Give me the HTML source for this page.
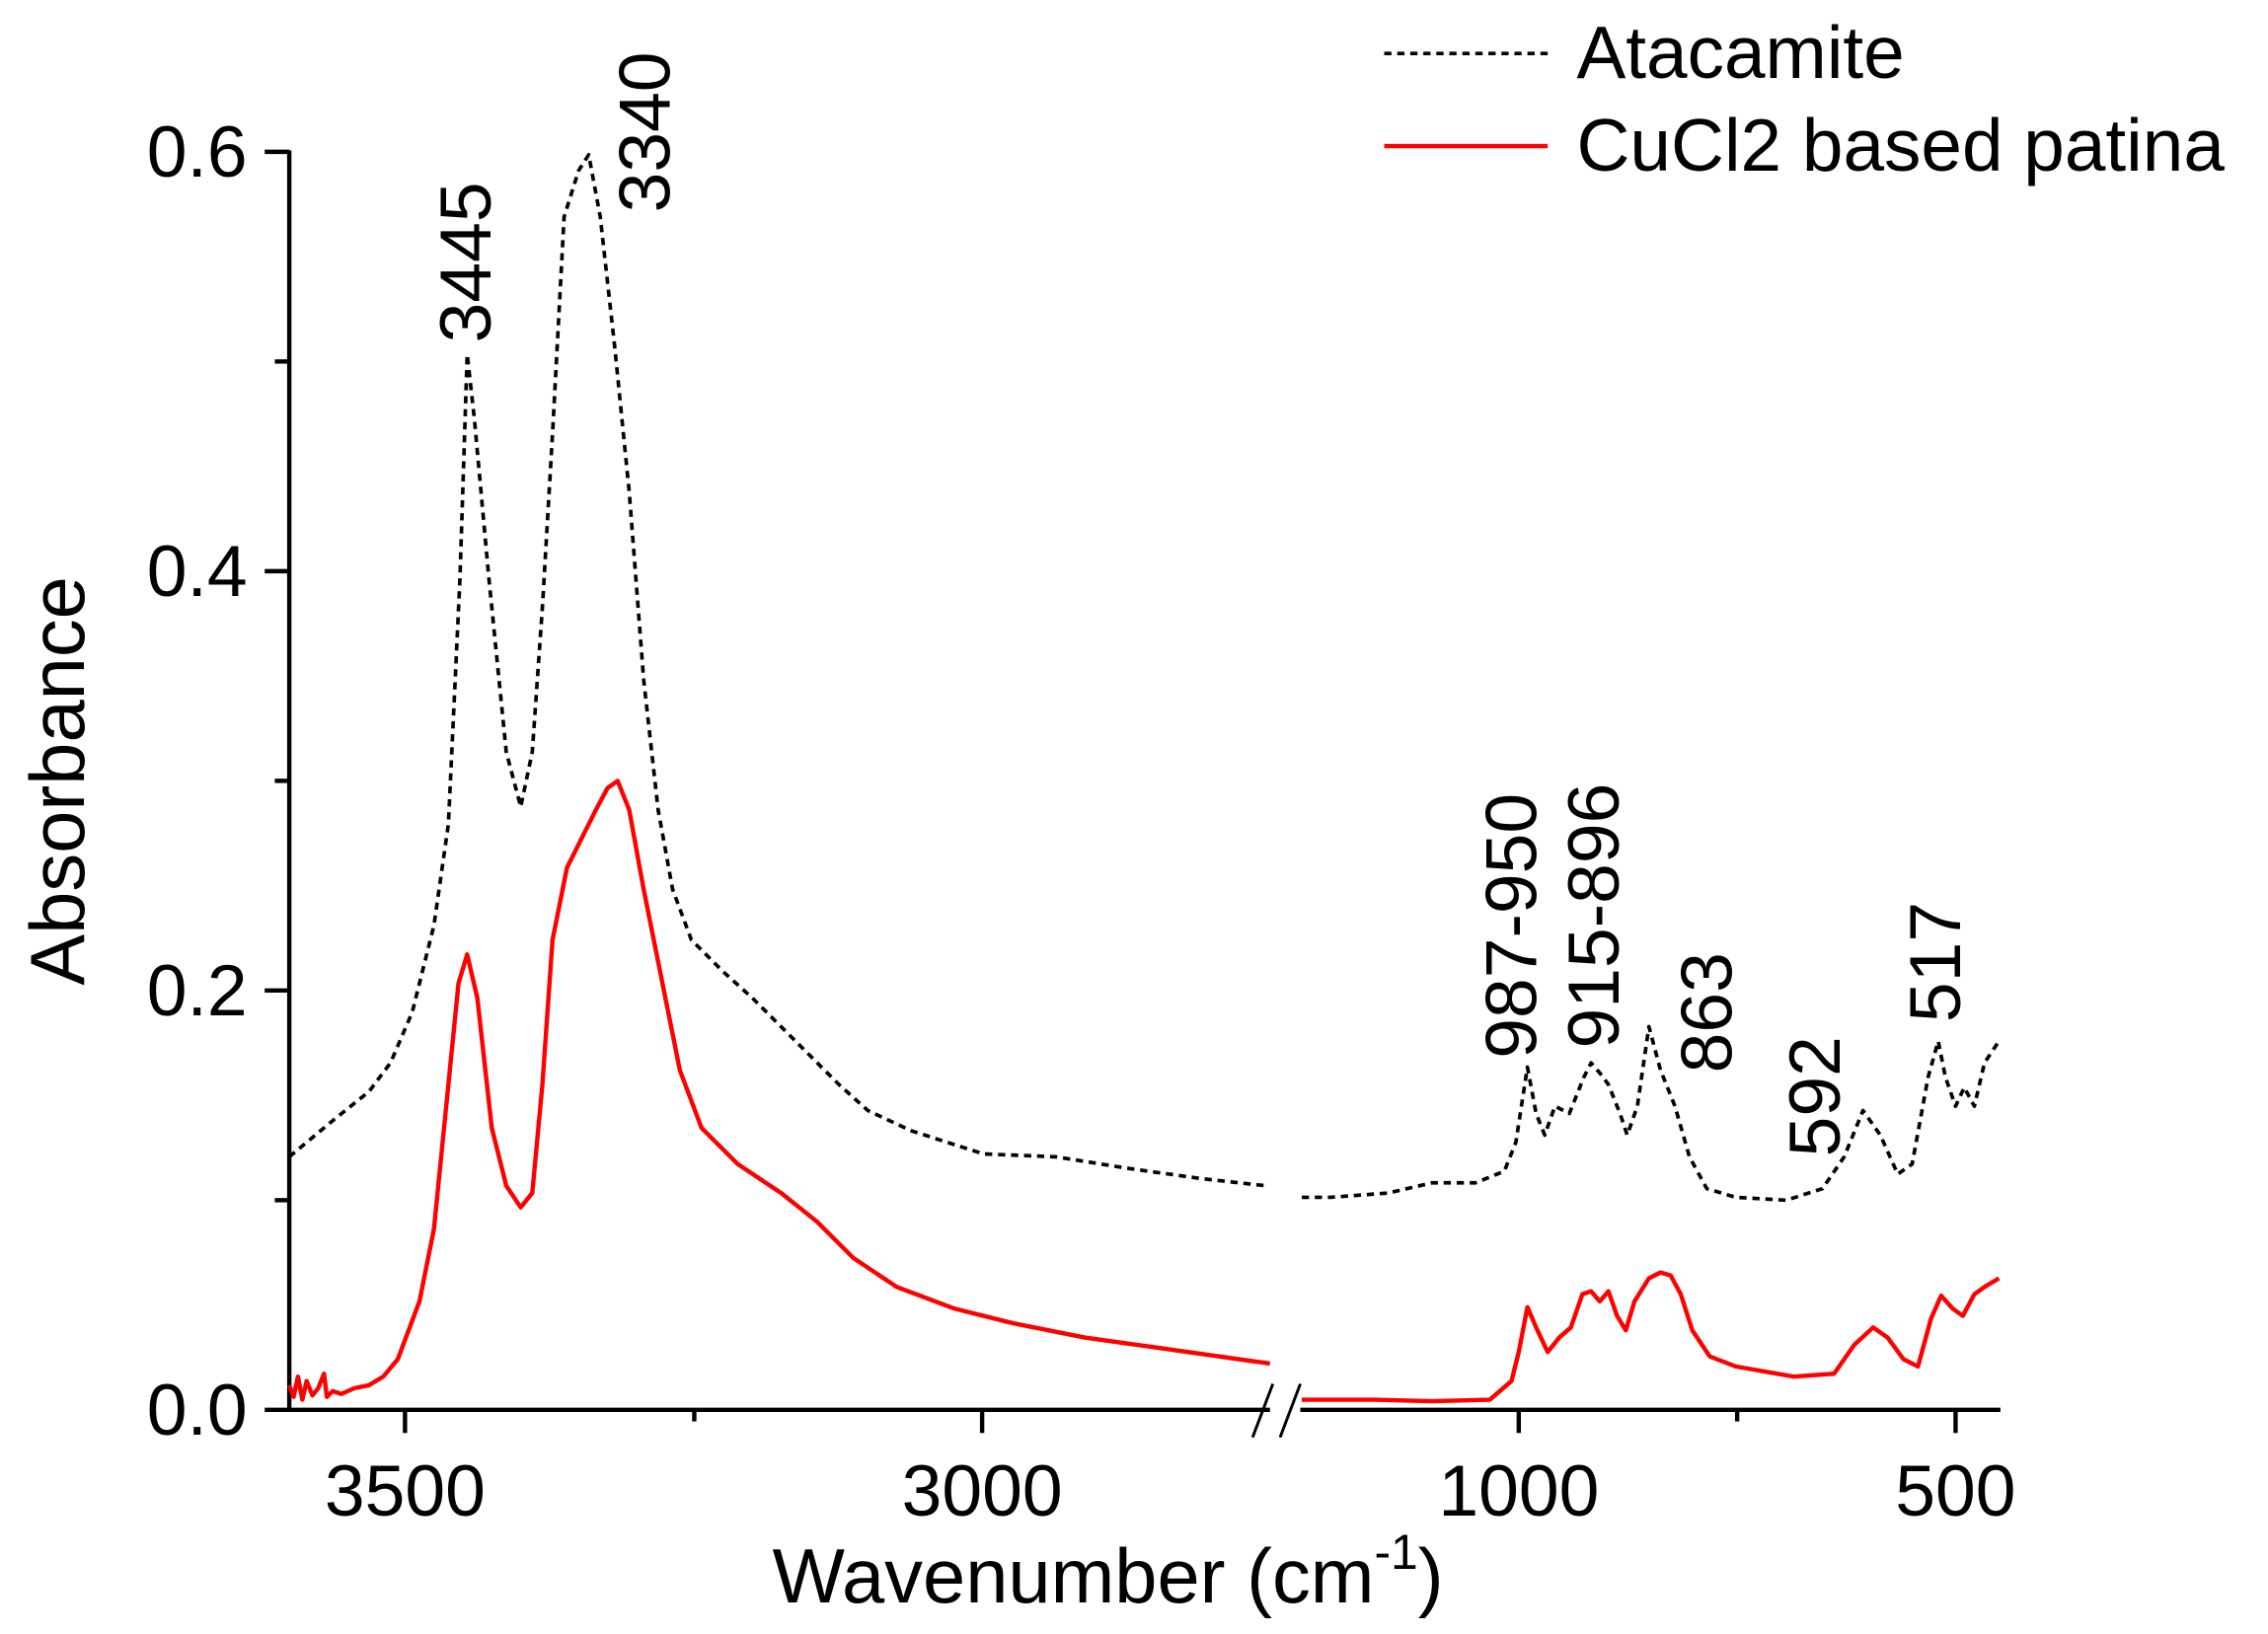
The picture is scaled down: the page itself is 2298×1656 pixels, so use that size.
<!DOCTYPE html>
<html><head><meta charset="utf-8"><style>
html,body{margin:0;padding:0;background:#fff;}
svg{display:block;}
text{font-family:"Liberation Sans",sans-serif;fill:#000;}
</style></head><body>
<svg width="2298" height="1656" viewBox="0 0 1568 1130" preserveAspectRatio="none" xmlns="http://www.w3.org/2000/svg">
<rect width="1568" height="1130" fill="#fff"/>
<g stroke="#000" stroke-width="3" fill="none">
<line x1="200" y1="104" x2="200" y2="976"/>
<line x1="183" y1="975" x2="878" y2="975"/>
<line x1="899" y1="975" x2="1383" y2="975"/>
<line x1="183" y1="105" x2="200" y2="105"/>
<line x1="183" y1="395" x2="200" y2="395"/>
<line x1="183" y1="685" x2="200" y2="685"/>
<line x1="190" y1="250" x2="200" y2="250"/>
<line x1="190" y1="540" x2="200" y2="540"/>
<line x1="190" y1="830" x2="200" y2="830"/>
<line x1="280" y1="975" x2="280" y2="991"/>
<line x1="679" y1="975" x2="679" y2="991"/>
<line x1="480" y1="975" x2="480" y2="983"/>
<line x1="1050" y1="975" x2="1050" y2="991"/>
<line x1="1352" y1="975" x2="1352" y2="991"/>
<line x1="1201" y1="975" x2="1201" y2="983"/>
</g>
<g stroke="#000" stroke-width="2">
<line x1="866" y1="994" x2="880" y2="957"/>
<line x1="885" y1="994" x2="899" y2="957"/>
</g>
<g font-size="50" text-anchor="end">
<text x="171" y="122">0.6</text>
<text x="171" y="412">0.4</text>
<text x="171" y="702">0.2</text>
<text x="171" y="992">0.0</text>
</g>
<g font-size="50" text-anchor="middle">
<text x="280" y="1048">3500</text>
<text x="679" y="1048">3000</text>
<text x="1050" y="1048">1000</text>
<text x="1352" y="1048">500</text>
</g>
<text x="766" y="1108" font-size="53" text-anchor="middle">Wavenumber (cm<tspan font-size="34" dy="-23">-1</tspan><tspan dy="23">)</tspan></text>
<text transform="translate(58,540) rotate(-90)" font-size="53" text-anchor="middle">Absorbance</text>
<g font-size="50">
<text transform="translate(339,237) rotate(-90)">3445</text>
<text transform="translate(463,147) rotate(-90)">3340</text>
<text transform="translate(1062,732) rotate(-90)">987-950</text>
<text transform="translate(1119,725) rotate(-90)">915-896</text>
<text transform="translate(1197,742) rotate(-90)">863</text>
<text transform="translate(1272,800) rotate(-90)">592</text>
<text transform="translate(1355,707) rotate(-90)">517</text>
</g>
<line x1="957" y1="37" x2="1070" y2="37" stroke="#000" stroke-width="2.5" stroke-dasharray="5,4"/>
<text x="1090" y="54" font-size="51">Atacamite</text>
<line x1="957" y1="101" x2="1070" y2="101" stroke="#f00" stroke-width="3"/>
<text x="1090" y="118" font-size="51">CuCl2 based patina</text>
<g fill="none" stroke="#000" stroke-width="2.5" stroke-dasharray="5,4" stroke-linejoin="round">
<polyline points="200,800 230,775 255,755 270,735 285,700 300,640 310,570 318,400 323,245 328,290 338,400 350,520 360,558 368,520 375,420 382,300 390,150 400,118 407,107 415,150 425,240 435,340 445,470 455,560 465,615 478,650 500,672 520,690 550,720 580,750 600,768 630,782 680,798 730,800 780,808 830,815 875,820"/>
<polyline points="900,828 920,828 960,825 990,818 1020,818 1040,810 1048,790 1056,738 1062,770 1068,785 1075,765 1085,770 1095,745 1100,735 1106,742 1112,750 1120,770 1125,785 1132,765 1140,710 1148,740 1158,765 1168,800 1180,822 1200,828 1235,830 1260,822 1275,800 1288,768 1300,785 1312,812 1322,805 1333,745 1340,720 1345,745 1352,765 1358,752 1365,765 1372,735 1382,720"/>
</g>
<g fill="none" stroke="#f00" stroke-width="3" stroke-linejoin="round">
<polyline points="200,958 203,966 206,952 209,968 212,955 216,965 220,960 224,950 226,966 230,962 236,964 245,960 255,958 265,952 275,940 290,900 300,850 310,750 317,680 323,660 330,690 340,780 350,820 360,835 368,825 375,750 382,650 392,600 402,580 412,560 420,545 427,540 435,560 445,615 458,680 470,740 485,780 510,805 540,825 565,845 590,870 620,890 660,905 700,915 750,925 800,932 878,943"/>
<polyline points="900,968 950,968 990,969 1030,968 1045,955 1050,935 1056,904 1062,918 1070,935 1078,925 1086,918 1094,895 1100,893 1106,900 1112,893 1118,910 1124,920 1130,900 1140,884 1148,880 1155,882 1162,895 1170,920 1182,938 1200,945 1240,952 1268,950 1282,930 1295,918 1305,925 1316,940 1326,945 1335,912 1342,896 1350,905 1357,910 1365,895 1372,890 1382,884"/>
</g>
</svg>
</body></html>
